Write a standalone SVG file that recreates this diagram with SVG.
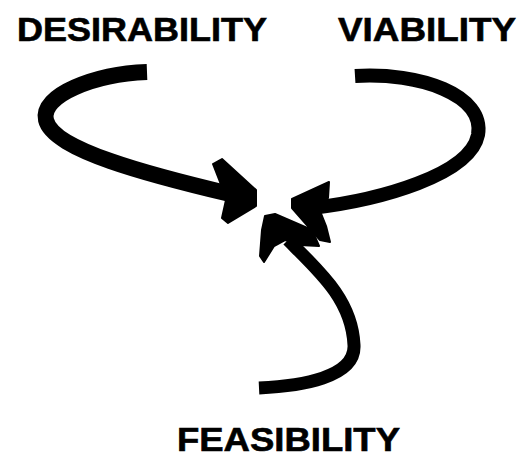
<svg xmlns="http://www.w3.org/2000/svg" width="519" height="459" viewBox="0 0 519 459">
<style>
.lbl{font-family:"Liberation Sans","DejaVu Sans",sans-serif;font-weight:bold;font-size:33px;fill:#000;stroke:#000;stroke-width:0.6;}
.shaft{fill:none;stroke:#000;stroke-linecap:butt;stroke-linejoin:round;}
.head{fill:#000;stroke:#000;stroke-width:2;stroke-linejoin:round;}
</style>
<rect width="519" height="459" fill="#fff"/>
<g id="desirability"><text class="lbl" x="17" y="41" textLength="250" lengthAdjust="spacingAndGlyphs">DESIRABILITY</text></g>
<g id="viability"><text class="lbl" x="338" y="41" textLength="178" lengthAdjust="spacingAndGlyphs">VIABILITY</text></g>
<g id="feasibility"><text class="lbl" x="177" y="451" textLength="223" lengthAdjust="spacingAndGlyphs">FEASIBILITY</text></g>
<g id="connectors">
<path class="shaft" stroke-width="16" d="M147,72 C95,74 40,95 46,120 C53,150 150,175 230,194"/>
<polygon class="head" points="213,164 222,159 256,190 256,206 228,223 222,218 226,200 220,182"/>
<path class="shaft" stroke-width="14" d="M355,76 C420,72 485,95 478,135 C470,175 380,200 312,208"/>
<polygon class="head" points="329,182 328,198 318,206 326,226 330,242 320,240 292,208 292,199"/>
<path class="shaft" stroke-width="13" d="M259,388 C300,386 356,378 354,345 C352,300 320,272 288,240"/>
<polygon class="head" points="265,216 275,214 312,230 319,246 300,245 285,240 274,246 264,262 260,256 262,230"/>
</g>
</svg>
